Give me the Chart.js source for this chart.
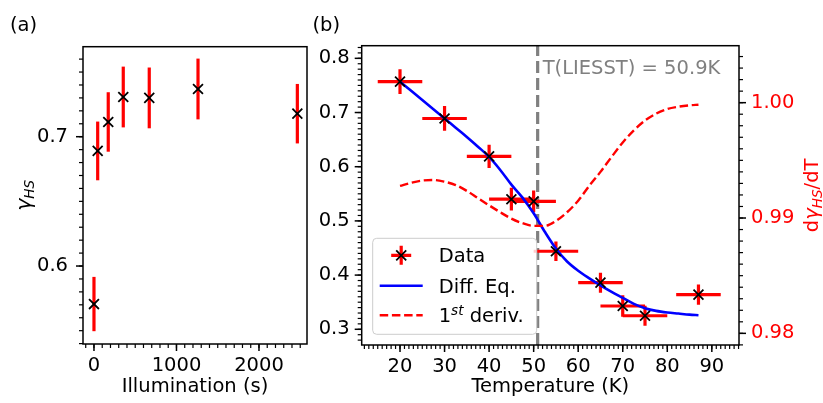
<!DOCTYPE html>
<html lang="en">
<head>
<meta charset="UTF-8" />
<title>gamma_HS vs illumination and temperature</title>
<script src="https://cdn.jsdelivr.net/npm/chart.js"></script>
<style>
  body { margin: 0; background: #fff; }
  #wrap { position: relative; width: 823px; height: 403px; overflow: hidden; }
  #chartA { position: absolute; left: 0; top: 0; }
  #chartB { position: absolute; left: 310px; top: 0; }
</style>
</head>
<body>
<div id="wrap">
  <canvas id="chartA" width="320" height="403"></canvas>
  <canvas id="chartB" width="513" height="403"></canvas>
</div>
<script>
// (a) gamma_HS vs illumination time
const illumTime = [0, 45, 173, 355, 670, 1261, 2465];
const illumGamma = [0.5706, 0.689, 0.7114, 0.7307, 0.730, 0.7369, 0.7178];
const illumGammaErr = [0.021, 0.0227, 0.023, 0.0235, 0.0235, 0.0235, 0.023];
const illumTicks = [0, 1000, 2000];
const gammaTicksA = [0.6, 0.7];

// (b) gamma_HS vs temperature
const tempK = [20, 30, 40, 45, 50, 55, 65, 70, 75, 87];
const tempGamma = [0.757, 0.689, 0.619, 0.540, 0.536, 0.444, 0.386, 0.343, 0.325, 0.364];
const tempErr = [5, 5, 5, 5, 5, 5, 5, 5, 5, 5];
const tempGammaErr = [0.023, 0.0228, 0.0215, 0.021, 0.02, 0.018, 0.0185, 0.02, 0.0185, 0.0185];

// Diff. Eq. fit curve
const fitT = [20, 22.5, 25, 27.5, 30, 32.5, 35, 37.5, 40, 42.5, 45, 47.5, 50, 52.5, 55, 57.5, 60, 62.5, 65, 67.5, 70, 72.5, 75, 77.5, 80, 82.5, 85, 87];
const fitGamma = [0.757, 0.740, 0.723, 0.706, 0.689, 0.672, 0.655, 0.637, 0.618, 0.594, 0.567, 0.543, 0.514, 0.480, 0.449, 0.425, 0.408, 0.394, 0.381, 0.369, 0.358, 0.347, 0.339, 0.334, 0.331, 0.329, 0.327, 0.326];
// first derivative (right axis)
const derivT = fitT;
const derivVal = [0.99278, 0.99305, 0.99325, 0.99330, 0.99315, 0.99286, 0.99235, 0.99172, 0.99110, 0.99050, 0.98995, 0.98955, 0.98932, 0.98932, 0.98975, 0.99050, 0.99150, 0.99280, 0.99400, 0.99530, 0.99655, 0.99760, 0.99845, 0.99905, 0.99945, 0.99965, 0.99977, 0.99982];

const tLiesst = 50.9;
const tempTicks = [20, 30, 40, 50, 60, 70, 80, 90];
const gammaTicksB = [0.3, 0.4, 0.5, 0.6, 0.7, 0.8];
const derivTicks = [0.98, 0.99, 1.00];

const FONT = "'DejaVu Sans', sans-serif";
Chart.defaults.font.family = FONT;
Chart.defaults.font.size = 19.5;
Chart.defaults.color = '#000';
Chart.defaults.animation = false;

const pts = (xs, ys) => xs.map((x, i) => ({ x: x, y: ys[i] }));

// tick marks like matplotlib: outside, major + minor
function drawTicks(ctx, scale, majors, minorStep, side, area) {
  const lo = Math.min(scale.min, scale.max), hi = Math.max(scale.min, scale.max);
  const draw = (v, len, lw) => {
    const p = scale.getPixelForValue(v);
    ctx.lineWidth = lw;
    ctx.beginPath();
    if (side === 'bottom') { ctx.moveTo(p, area.bottom); ctx.lineTo(p, area.bottom + len); }
    if (side === 'left') { ctx.moveTo(area.left, p); ctx.lineTo(area.left - len, p); }
    if (side === 'right') { ctx.moveTo(area.right, p); ctx.lineTo(area.right + len, p); }
    ctx.stroke();
  };
  ctx.strokeStyle = '#000';
  for (let k = Math.ceil(lo / minorStep - 1e-6); k * minorStep <= hi + 1e-9; k++) {
    draw(k * minorStep, 4, 1.2);
  }
  majors.forEach(v => draw(v, 7, 1.5));
}

function drawErrorBars(chart, xs, ys, xerr, yerr) {
  const { ctx, scales } = chart;
  ctx.save();
  ctx.strokeStyle = '#ff0000';
  ctx.lineWidth = 3.2;
  xs.forEach((xv, i) => {
    const px = scales.x.getPixelForValue(xv), py = scales.y.getPixelForValue(ys[i]);
    ctx.beginPath();
    ctx.moveTo(px, scales.y.getPixelForValue(ys[i] - yerr[i]));
    ctx.lineTo(px, scales.y.getPixelForValue(ys[i] + yerr[i]));
    if (xerr) {
      ctx.moveTo(scales.x.getPixelForValue(xv - xerr[i]), py);
      ctx.lineTo(scales.x.getPixelForValue(xv + xerr[i]), py);
    }
    ctx.stroke();
  });
  ctx.restore();
}

// draws text pieces (sub/superscripts in italics), returns width
function mathText(ctx, parts, x, y, measureOnly) {
  let cx = x;
  parts.forEach(p => {
    ctx.font = (p.italic ? 'italic ' : '') + p.size + 'px ' + FONT;
    if (!measureOnly) ctx.fillText(p.t, cx, y + (p.dy || 0));
    cx += ctx.measureText(p.t).width;
  });
  return cx - x;
}

function rotatedMath(ctx, parts, cx, cy, color) {
  ctx.save();
  ctx.fillStyle = color;
  ctx.translate(cx, cy);
  ctx.rotate(-Math.PI / 2);
  ctx.textBaseline = 'alphabetic';
  const w = mathText(ctx, parts, 0, 0, true);
  mathText(ctx, parts, -w / 2, 7, false);
  ctx.restore();
}

const plainScale = (extra) => Object.assign({
  type: 'linear',
  grid: { display: false, drawTicks: false },
  border: { display: false },
  ticks: { autoSkip: false, maxRotation: 0 }
}, extra);

// ---------- panel (a) ----------
const decorA = {
  id: 'decorA',
  beforeDatasetsDraw(chart) {
    drawErrorBars(chart, illumTime, illumGamma, null, illumGammaErr);
  },
  afterDraw(chart) {
    const { ctx, chartArea: a, scales } = chart;
    ctx.save();
    ctx.strokeStyle = '#000';
    ctx.lineWidth = 1.5;
    ctx.strokeRect(a.left, a.top, a.right - a.left, a.bottom - a.top);
    drawTicks(ctx, scales.x, illumTicks, 100, 'bottom', a);
    drawTicks(ctx, scales.y, gammaTicksA, 0.01, 'left', a);
    ctx.fillStyle = '#000';
    ctx.font = '19.5px ' + FONT;
    ctx.textAlign = 'left';
    ctx.textBaseline = 'alphabetic';
    ctx.fillText('(a)', 10, 31);
    ctx.textAlign = 'center';
    ctx.fillText('Illumination (s)', (a.left + a.right) / 2, 392);
    ctx.textAlign = 'left';
    rotatedMath(ctx, [
      { t: 'γ', size: 20.5, italic: true },
      { t: 'HS', size: 13.6, italic: true, dy: 3.5 }
    ], 23.5, (a.top + a.bottom) / 2, '#000');
    ctx.restore();
  }
};

new Chart(document.getElementById('chartA'), {
  type: 'scatter',
  data: {
    datasets: [{
      data: pts(illumTime, illumGamma),
      pointStyle: 'crossRot',
      pointRadius: 7,
      pointBorderWidth: 1.8,
      borderColor: '#000',
      backgroundColor: '#000'
    }]
  },
  options: {
    responsive: false,
    layout: { padding: { top: 46.7, right: 13, left: 0, bottom: 0 } },
    plugins: { legend: { display: false }, tooltip: { enabled: false } },
    scales: {
      x: plainScale({
        min: -133, max: 2582,
        afterBuildTicks: s => { s.ticks = illumTicks.map(v => ({ value: v })); },
        afterFit: s => { s.height = 59; },
        ticks: { autoSkip: false, maxRotation: 0, padding: 10, callback: v => String(v) }
      }),
      y: plainScale({
        min: 0.5397, max: 0.7696,
        afterBuildTicks: s => { s.ticks = gammaTicksA.map(v => ({ value: v })); },
        afterFit: s => { s.width = 83; },
        ticks: { autoSkip: false, padding: 15, callback: v => v.toFixed(1) }
      })
    }
  },
  plugins: [decorA]
});

// ---------- panel (b) ----------
const decorB = {
  id: 'decorB',
  beforeDatasetsDraw(chart) {
    const { ctx, chartArea: a, scales } = chart;
    const px = scales.x.getPixelForValue(tLiesst);
    ctx.save();
    ctx.strokeStyle = '#808080';
    ctx.lineWidth = 3.2;
    ctx.setLineDash([12, 5]);
    ctx.beginPath();
    ctx.moveTo(px, a.bottom);
    ctx.lineTo(px, a.top);
    ctx.stroke();
    ctx.restore();
    drawErrorBars(chart, tempK, tempGamma, tempErr, tempGammaErr);
  },
  afterDraw(chart) {
    const { ctx, chartArea: a, scales } = chart;
    ctx.save();
    ctx.strokeStyle = '#000';
    ctx.lineWidth = 1.5;
    ctx.strokeRect(a.left, a.top, a.right - a.left, a.bottom - a.top);
    drawTicks(ctx, scales.x, tempTicks, 1, 'bottom', a);
    drawTicks(ctx, scales.y, gammaTicksB, 0.01, 'left', a);
    drawTicks(ctx, scales.y2, derivTicks, 0.001, 'right', a);

    ctx.textBaseline = 'alphabetic';
    ctx.font = '19.5px ' + FONT;
    ctx.fillStyle = '#000';
    ctx.textAlign = 'left';
    ctx.fillText('(b)', 2.5, 31);
    ctx.textAlign = 'center';
    ctx.fillText('Temperature (K)', (a.left + a.right) / 2, 392);
    ctx.textAlign = 'left';
    ctx.fillStyle = '#808080';
    ctx.fillText('T(LIESST) = ' + tLiesst + 'K', scales.x.getPixelForValue(tLiesst) + 5, 73.5);

    rotatedMath(ctx, [
      { t: 'd', size: 19.5 },
      { t: 'γ', size: 19.5, italic: true },
      { t: 'HS', size: 13.6, italic: true, dy: 3.5 },
      { t: '/dT', size: 19.5 }
    ], 501, (a.top + a.bottom) / 2, '#ff0000');

    // legend
    const bx = a.left + 11, by = a.bottom - 10.7 - 96, bw = 164, bh = 96;
    ctx.fillStyle = 'rgba(255,255,255,0.8)';
    ctx.strokeStyle = '#cccccc';
    ctx.lineWidth = 1;
    ctx.beginPath();
    ctx.roundRect(bx, by, bw, bh, 4);
    ctx.fill();
    ctx.stroke();

    const hx0 = bx + 7, hx1 = bx + 50, hc = (hx0 + hx1) / 2;
    const rows = [by + 17, by + 47.5, by + 77];
    // Data handle
    ctx.strokeStyle = '#ff0000';
    ctx.lineWidth = 3.2;
    ctx.beginPath();
    ctx.moveTo(hc - 10, rows[0]); ctx.lineTo(hc + 10, rows[0]);
    ctx.moveTo(hc, rows[0] - 9.5); ctx.lineTo(hc, rows[0] + 9.5);
    ctx.stroke();
    ctx.strokeStyle = '#000';
    ctx.lineWidth = 1.8;
    ctx.beginPath();
    ctx.moveTo(hc - 5, rows[0] - 5); ctx.lineTo(hc + 5, rows[0] + 5);
    ctx.moveTo(hc - 5, rows[0] + 5); ctx.lineTo(hc + 5, rows[0] - 5);
    ctx.stroke();
    // Diff. Eq. handle
    ctx.strokeStyle = '#0000ff';
    ctx.lineWidth = 2.6;
    ctx.beginPath();
    ctx.moveTo(hx0, rows[1]); ctx.lineTo(hx1, rows[1]);
    ctx.stroke();
    // 1st deriv handle
    ctx.strokeStyle = '#ff0000';
    ctx.lineWidth = 2.4;
    ctx.setLineDash([8.5, 3.7]);
    ctx.beginPath();
    ctx.moveTo(hx0, rows[2]); ctx.lineTo(hx1, rows[2]);
    ctx.stroke();
    ctx.setLineDash([]);

    ctx.fillStyle = '#000';
    const tx = bx + 66;
    mathText(ctx, [{ t: 'Data', size: 19.5 }], tx, rows[0] + 7, false);
    mathText(ctx, [{ t: 'Diff. Eq.', size: 19.5 }], tx, rows[1] + 7, false);
    mathText(ctx, [
      { t: '1', size: 19.5 },
      { t: 'st', size: 13.6, italic: true, dy: -7 },
      { t: ' deriv.', size: 19.5 }
    ], tx, rows[2] + 7, false);
    ctx.restore();
  }
};

new Chart(document.getElementById('chartB'), {
  type: 'scatter',
  data: {
    datasets: [
      {
        label: 'Data',
        data: pts(tempK, tempGamma),
        pointStyle: 'crossRot',
        pointRadius: 7,
        pointBorderWidth: 1.8,
        borderColor: '#000',
        backgroundColor: '#000',
        order: 1
      },
      {
        label: 'Diff. Eq.',
        data: pts(fitT, fitGamma),
        showLine: true,
        borderColor: '#0000ff',
        borderWidth: 2.6,
        pointRadius: 0,
        cubicInterpolationMode: 'monotone',
        order: 2
      },
      {
        label: '1st deriv.',
        data: pts(derivT, derivVal),
        yAxisID: 'y2',
        showLine: true,
        borderColor: '#ff0000',
        borderWidth: 2.4,
        borderDash: [8.5, 3.7],
        pointRadius: 0,
        cubicInterpolationMode: 'monotone',
        order: 0
      }
    ]
  },
  options: {
    responsive: false,
    layout: { padding: { top: 45.7, right: 0, left: 0, bottom: 0 } },
    plugins: { legend: { display: false }, tooltip: { enabled: false } },
    scales: {
      x: plainScale({
        min: 11.4, max: 96.1,
        afterBuildTicks: s => { s.ticks = tempTicks.map(v => ({ value: v })); },
        afterFit: s => { s.height = 58; },
        ticks: { autoSkip: false, maxRotation: 0, padding: 10, callback: v => String(v) }
      }),
      y: plainScale({
        position: 'left',
        min: 0.271, max: 0.8233,
        afterBuildTicks: s => { s.ticks = gammaTicksB.map(v => ({ value: v })); },
        afterFit: s => { s.width = 51.7; },
        ticks: { autoSkip: false, padding: 12, callback: v => v.toFixed(1) }
      }),
      y2: plainScale({
        position: 'right',
        min: 0.97899, max: 1.00494,
        afterBuildTicks: s => { s.ticks = derivTicks.map(v => ({ value: v })); },
        afterFit: s => { s.width = 84; },
        ticks: { autoSkip: false, padding: 12, color: '#ff0000', callback: v => v.toFixed(2) }
      })
    }
  },
  plugins: [decorB]
});
</script>
</body>
</html>
